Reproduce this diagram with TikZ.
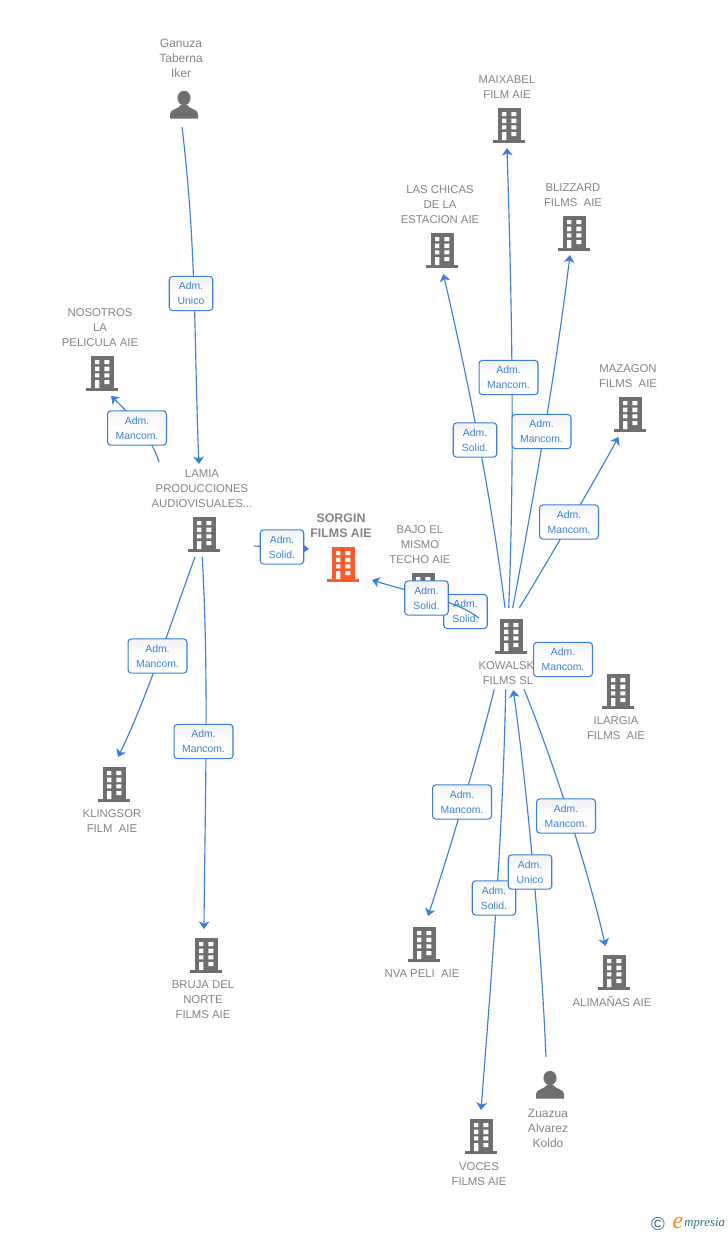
\documentclass[tikz,border=0pt]{standalone}
\usepackage{fontspec}
\setmainfont{Liberation Sans}
\newfontfamily\logofont{Liberation Serif}
\usetikzlibrary{arrows.meta,calc}
\definecolor{linkblue}{HTML}{3B7FDE}
\definecolor{labelgray}{HTML}{858585}
\definecolor{icongray}{HTML}{6F6F6F}
\definecolor{iconorange}{HTML}{FF5A2B}
\definecolor{logoteal}{HTML}{2F6F86}
\definecolor{logoorange}{HTML}{F28A1E}
\tikzset{
  x=0.75pt,y=-0.75pt,
  iconbox/.style={minimum width=24pt,minimum height=27pt,inner sep=0pt},
  conn/.style={draw=linkblue,line width=0.85pt,-{Stealth[length=5.6pt,width=8pt,inset=1.6pt]}},
  rel/.style={draw=linkblue,line width=0.8pt,rounded corners=2.4pt,top color=black!5,bottom color=white,middle color=white,
    text=linkblue,font=\fontsize{7.8}{11.25}\selectfont,align=center,minimum height=25.6pt,inner sep=0pt},
  relw/.style={rel,minimum width=44.2pt},
  reln/.style={rel,minimum width=32.6pt},
  caps/.style={text=labelgray,font=\fontsize{8.5}{11.25}\selectfont,align=center,inner sep=0pt},
  names/.style={text=labelgray,font=\fontsize{9}{11.25}\selectfont,align=center,inner sep=0pt},
  main/.style={text=labelgray,font=\bfseries\fontsize{9.3}{11.25}\selectfont,align=center,inner sep=0pt},
}
\newcommand{\bldg}[4]{%
  \node[iconbox] (#1) at (#2,#3) {};
  \begin{scope}[shift={(#2,#3)}]
    \fill[#4] (-11.5,-17) rectangle (11.5,15);
    \fill[#4] (-16,15) rectangle (16,17.5);
    \fill[white] (-7,-13) rectangle (-2.7,-9) (2.3,-13) rectangle (7.3,-9)
      (-7,-6.3) rectangle (-2.7,-2) (2.3,-6.3) rectangle (7.3,-2)
      (-7,0.3) rectangle (-2.7,4.3) (2.3,0.3) rectangle (7.3,4.3)
      (-7,7) rectangle (-2.7,15) (2.3,7) rectangle (7.3,11);
  \end{scope}}
\newcommand{\persona}[3]{%
  \node[iconbox] (#1) at (#2,#3) {};
  \begin{scope}[shift={(#2,#3)}]
    \fill[icongray] (0,-8) ellipse (6.6 and 7.2);
    \fill[icongray] (-14,12.7) -- (-14,8) .. controls (-14,3) and (-5,3) .. (-3,-1) -- (3,-1)
      .. controls (5,3) and (14,3) .. (14,8) -- (14,12.7) -- cycle;
  \end{scope}}
\begin{document}
\begin{tikzpicture}
\useasboundingbox (0,0) rectangle (728,1235);
\fill[white] (0,0) rectangle (728,1235);
% icons
\persona{gan}{184}{106}
\persona{zua}{550}{1086}
\bldg{mai}{509}{125}{icongray}
\bldg{las}{442}{250}{icongray}
\bldg{bli}{574}{233}{icongray}
\bldg{maz}{630}{414}{icongray}
\bldg{nos}{102}{373}{icongray}
\bldg{lam}{204}{534}{icongray}
\bldg{sor}{343}{564}{iconorange}
\bldg{baj}{423}{590}{icongray}
\bldg{kow}{511}{636}{icongray}
\bldg{ila}{618}{691}{icongray}
\bldg{kli}{114}{784}{icongray}
\bldg{bru}{206}{955}{icongray}
\bldg{nva}{424}{944}{icongray}
\bldg{ali}{614}{972}{icongray}
\bldg{voc}{481}{1136}{icongray}
% labels
\node[names] (tgan) at (181,58) {Ganuza\\Taberna\\Iker};
\node[names] (tzua) at (548,1128) {Zuazua\\Alvarez\\Koldo};
\node[caps] (tmai) at (507,87.5) {MAIXABEL\\FILM AIE};
\node[caps] (tlas) at (440,205) {LAS CHICAS\\DE LA\\ESTACION AIE};
\node[caps] (tbli) at (573,195.5) {BLIZZARD\\FILMS\ \ AIE};
\node[caps] (tmaz) at (628,376.5) {MAZAGON\\FILMS\ \ AIE};
\node[caps] (tnos) at (100,328) {NOSOTROS\\LA\\PELICULA AIE};
\node[caps] (tlam) at (202,489) {LAMIA\\PRODUCCIONES\\AUDIOVISUALES...};
\node[main] (tsor) at (341,526) {SORGIN\\FILMS AIE};
\node[caps] (tbaj) at (420,545) {BAJO EL\\MISMO\\TECHO AIE};
\node[caps] (tkow) at (508,673.5) {KOWALSKI\\FILMS SL};
\node[caps] (tila) at (616,728.5) {ILARGIA\\FILMS\ \ AIE};
\node[caps] (tkli) at (112,821.5) {KLINGSOR\\FILM\ \ AIE};
\node[caps] (tbru) at (203,1000) {BRUJA DEL\\NORTE\\FILMS AIE};
\node[caps] (tnva) at (422,974) {NVA PELI\ \ AIE};
\node[caps] (tali) at (612,1002) {ALIMAÑAS AIE};
\node[caps] (tvoc) at (479,1174.5) {VOCES\\FILMS AIE};
% connectors
\draw[conn] ([shift={(-2,21)}]gan.center) .. controls (197,250) and (194,350) .. ([shift={(-5,-70)}]lam.center);
\draw[conn] ([shift={(-45,-72)}]lam.center) .. controls (152,438) and (130,414) .. ([shift={(9,23)}]nos.center);
\draw[conn] ([shift={(50,12)}]lam.center) -- ([shift={(-34,-15)}]sor.center);
\draw[conn] ([shift={(-9,23)}]lam.center) .. controls (172,620) and (146,700) .. ([shift={(4,-27)}]kli.center);
\draw[conn] ([shift={(-1.7,23)}]lam.center) .. controls (209,680) and (205,800) .. ([shift={(-2,-26)}]bru.center);
\draw[conn] ([shift={(-6,-28)}]kow.center) .. controls (492,500) and (468,380) .. ([shift={(1.3,24)}]las.center);
\draw[conn] ([shift={(-2.3,-28)}]kow.center) .. controls (515,450) and (511.7,300) .. ([shift={(-2,23)}]mai.center);
\draw[conn] ([shift={(1.7,-28)}]kow.center) .. controls (535,490) and (556,370) .. ([shift={(-4,22)}]bli.center);
\draw[conn] ([shift={(8.3,-28)}]kow.center) .. controls (545.7,565) and (595,480) .. ([shift={(-11.5,23)}]maz.center);
\draw[conn] ([shift={(-16.7,53.3)}]kow.center) .. controls (474,770) and (446.5,860) .. ([shift={(4,-28)}]nva.center);
\draw[conn] ([shift={(-5.3,53.3)}]kow.center) .. controls (503,830) and (492,970) .. ([shift={(0,-26)}]voc.center);
\draw[conn] ([shift={(-4,-29)}]zua.center) .. controls (541.5,950) and (528.5,800) .. ([shift={(2.3,54)}]kow.center);
\draw[conn] ([shift={(13,53.3)}]kow.center) .. controls (553,760) and (588,870) .. ([shift={(-8.5,-26)}]ali.center);
% relation boxes
\node[reln] (r1) at (191,293.5) {Adm.\\Unico};
\node[relw] (r2) at (137,428) {Adm.\\Mancom.};
\node[reln] (r3) at (282,547) {Adm.\\Solid.};
\node[relw] (r4) at (157.5,656) {Adm.\\Mancom.};
\node[relw] (r5) at (203.5,741.5) {Adm.\\Mancom.};
\node[reln] (r6) at (465.5,611.5) {Adm.\\Solid.};
\draw[conn] ([shift={(-32,-18)}]kow.center) .. controls (455,600) and (420,595) .. ([shift={(29,16)}]sor.center);
\node[reln] (r7) at (426.5,598) {Adm.\\Solid.};
\node[reln] (r8) at (475,440) {Adm.\\Solid.};
\node[relw] (r9) at (508.5,377.5) {Adm.\\Mancom.};
\node[relw] (r10) at (541.5,431.5) {Adm.\\Mancom.};
\node[relw] (r11) at (569,522) {Adm.\\Mancom.};
\node[relw] (r12) at (563,659.5) {Adm.\\Mancom.};
\node[relw] (r13) at (462,802) {Adm.\\Mancom.};
\node[reln] (r14) at (494,898) {Adm.\\Solid.};
\node[reln] (r15) at (530,872) {Adm.\\Unico};
\node[relw] (r16) at (566,816) {Adm.\\Mancom.};
% logo
\node[text=logoteal,font=\fontsize{14}{14}\selectfont,inner sep=0pt] (lc) at (658,1224) {©};
\node[text=logoorange,font=\logofont\itshape\fontsize{18}{18}\selectfont,inner sep=0pt] (le) at (678,1222.5) {e};
\node[text=logoteal,font=\logofont\itshape\fontsize{9.6}{10}\selectfont,inner sep=0pt,anchor=west] (lt) at (684,1224) {mpresia};
\end{tikzpicture}
\end{document}
